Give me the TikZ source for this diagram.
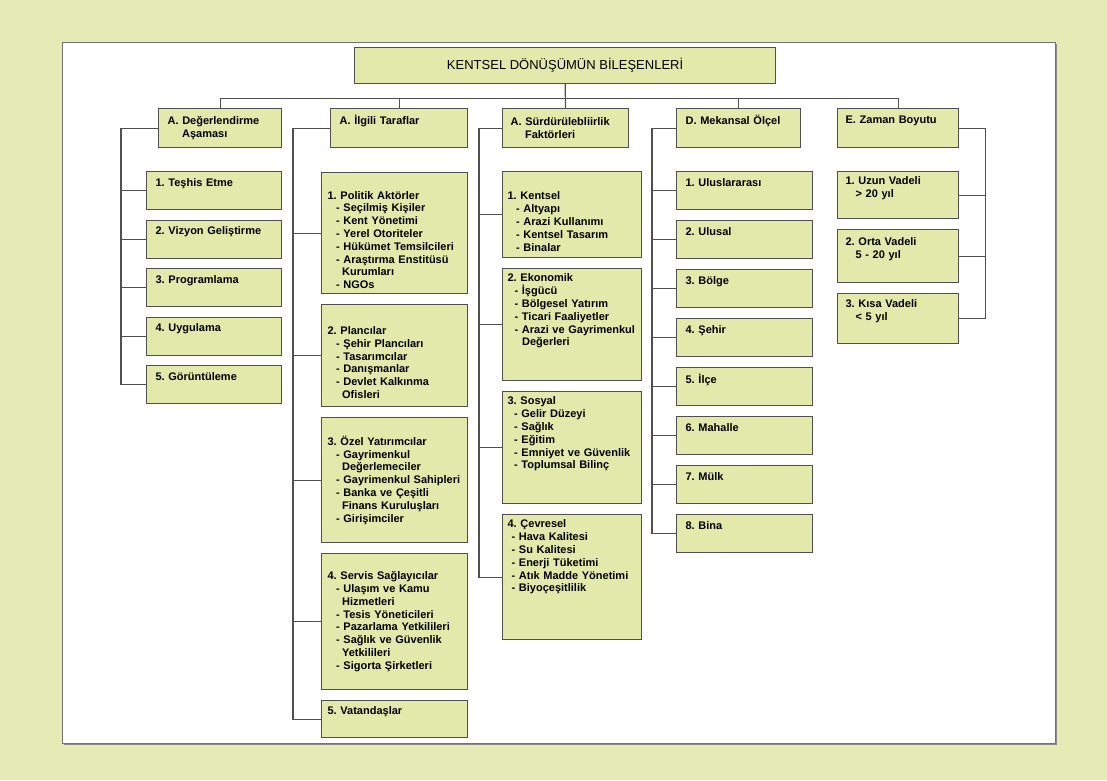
\documentclass[tikz,border=0pt]{standalone}
\usepackage{fontspec}
\setmainfont{Liberation Sans}
\usepackage{tikz}
\usepackage{xcolor}
\usetikzlibrary{positioning}

\definecolor{pagegreen}{RGB}{228,235,181}
\definecolor{boxgreen}{RGB}{226,233,170}
\definecolor{edgegray}{RGB}{80,80,80}

\newcommand{\dashline}[1][8.5pt]{\hspace*{#1}-\ \ignorespaces}
\newcommand{\contline}{\hspace*{14.5pt}\ignorespaces}
\frenchspacing
\hyphenpenalty=10000
\exhyphenpenalty=10000

\begin{document}
\begin{tikzpicture}[x=1pt, y=-1pt, node distance=9.8pt,
  box/.style={draw=edgegray, fill=boxgreen, line width=1.2pt, anchor=north west,
    align=left, inner ysep=1pt, font=\bfseries\fontsize{11}{12.8}\selectfont},
  head/.style={box, align=center, minimum width=421pt, minimum height=36pt,
    font=\fontsize{13}{15}\selectfont},
  cat/.style={box, minimum height=39pt},
  leaf/.style={box, minimum height=38pt},
  colA/.style={text width=117pt, inner xsep=9pt},
  colB/.style={text width=134pt, inner xsep=6pt},
  colC/.style={text width=129pt, inner xsep=5pt},
  colD/.style={text width=118pt, inner xsep=9pt},
  colE/.style={text width=105pt, inner xsep=8pt},
  wire/.style={draw=edgegray, line width=1.2pt}]

  % page and white frame
  \useasboundingbox[fill=pagegreen] (0,0) rectangle (1107,780);
  \fill[black!45] (64,44) rectangle (1057,745);
  \draw[edgegray!80, fill=white, line width=1pt] (62,42) rectangle (1055,743);

  % top box and the five branches
  \node[head] (title) at (354,47) {KENTSEL DÖNÜŞÜMÜN BİLEŞENLERİ};
  \node[cat, text width=105pt, inner xsep=9pt] (assess) at (158,108) {A. Değerlendirme\\\contline Aşaması};
  \node[cat, text width=119pt, inner xsep=9pt] (actors) at (330,108) {A. İlgili Taraflar\\\strut};
  \node[cat, text width=110pt, inner xsep=8pt] (factors) at (502,108) {A. Sürdürülebliirlik\\\contline Faktörleri};
  \node[cat, text width=106pt, inner xsep=9pt] (scale) at (676,108) {D. Mekansal Ölçel\\\strut};
  \node[cat, text width=105pt, inner xsep=8pt] (time) at (837,108) {E. Zaman Boyutu\\\strut};

  % A. Değerlendirme Aşaması
  \node[leaf, colA] (assess1) at (146,171) {1. Teşhis Etme\\\strut};
  \node[leaf, colA, below=9.3pt of assess1] (assess2) {2. Vizyon Geliştirme\\\strut};
  \node[leaf, colA, below=9.3pt of assess2] (assess3) {3. Programlama\\\strut};
  \node[leaf, colA, below=9.3pt of assess3] (assess4) {4. Uygulama\\\strut};
  \node[leaf, colA, below=9.3pt of assess4] (assess5) {5. Görüntüleme\\\strut};

  % A. İlgili Taraflar
  \node[leaf, colB, minimum height=121pt] (actors1) at (321,172) {\strut\\1. Politik Aktörler\\\dashline Seçilmiş Kişiler\\\dashline Kent Yönetimi\\\dashline Yerel Otoriteler\\\dashline Hükümet Temsilcileri\\\dashline Araştırma Enstitüsü\\\contline Kurumları\\\dashline NGOs};
  \node[leaf, colB, minimum height=102pt, below=of actors1] (actors2) {\strut\\2. Plancılar\\\dashline Şehir Plancıları\\\dashline Tasarımcılar\\\dashline Danışmanlar\\\dashline Devlet Kalkınma\\\contline Ofisleri};
  \node[leaf, colB, minimum height=125pt, below=of actors2] (actors3) {3. Özel Yatırımcılar\\\dashline Gayrimenkul\\\contline Değerlemeciler\\\dashline Gayrimenkul Sahipleri\\\dashline Banka ve Çeşitli\\\contline Finans Kuruluşları\\\dashline Girişimciler};
  \node[leaf, colB, minimum height=136pt, below=of actors3] (actors4) {4. Servis Sağlayıcılar\\\dashline Ulaşım ve Kamu\\\contline Hizmetleri\\\dashline Tesis Yöneticileri\\\dashline Pazarlama Yetkilileri\\\dashline Sağlık ve Güvenlik\\\contline Yetkilileri\\\dashline Sigorta Şirketleri};
  \node[leaf, colB, minimum height=37pt, below=of actors4] (actors5) {5. Vatandaşlar\\\strut};

  % A. Sürdürülebilirlik Faktörleri
  \node[leaf, colC, minimum height=86pt] (factors1) at (502,171) {\strut\\1. Kentsel\\\dashline Altyapı\\\dashline Arazi Kullanımı\\\dashline Kentsel Tasarım\\\dashline Binalar};
  \node[leaf, colC, minimum height=112pt, below=of factors1] (factors2) {2. Ekonomik\\\dashline[7pt] İşgücü\\\dashline[7pt] Bölgesel Yatırım\\\dashline[7pt] Ticari Faaliyetler\\\dashline[7pt] Arazi ve Gayrimenkul\\\contline Değerleri\\\strut\\\strut};
  \node[leaf, colC, minimum height=112pt, below=of factors2] (factors3) {3. Sosyal\\\dashline[6.5pt] Gelir Düzeyi\\\dashline[6.5pt] Sağlık\\\dashline[6.5pt] Eğitim\\\dashline[6.5pt] Emniyet ve Güvenlik\\\dashline[6.5pt] Toplumsal Bilinç\\\strut\\\strut};
  \node[leaf, colC, minimum height=125pt, below=of factors3] (factors4) {4. Çevresel\\\dashline[4pt] Hava Kalitesi\\\dashline[4pt] Su Kalitesi\\\dashline[4pt] Enerji Tüketimi\\\dashline[4pt] Atık Madde Yönetimi\\\dashline[4pt] Biyoçeşitlilik\\\strut\\\strut\\\strut};

  % D. Mekansal Ölçel
  \node[leaf, colD] (scale1) at (676,171) {1. Uluslararası\\\strut};
  \node[leaf, colD, below=of scale1] (scale2) {2. Ulusal\\\strut};
  \node[leaf, colD, below=of scale2] (scale3) {3. Bölge\\\strut};
  \node[leaf, colD, below=of scale3] (scale4) {4. Şehir\\\strut};
  \node[leaf, colD, below=of scale4] (scale5) {5. İlçe\\\strut};
  \node[leaf, colD, below=of scale5] (scale6) {6. Mahalle\\\strut};
  \node[leaf, colD, below=of scale6] (scale7) {7. Mülk\\\strut};
  \node[leaf, colD, below=of scale7] (scale8) {8. Bina\\\strut};

  % E. Zaman Boyutu
  \node[leaf, colE, minimum height=47pt] (time1) at (837,171) {1. Uzun Vadeli\\\hspace*{10pt}> 20 yıl\\\strut};
  \node[leaf, colE, minimum height=53pt, below=of time1] (time2) {2. Orta Vadeli\\\hspace*{10pt}5 - 20 yıl\\\strut};
  \node[leaf, colE, minimum height=50pt, below=of time2] (time3) {3. Kısa Vadeli\\\hspace*{10pt}< 5 yıl\\\strut};

  % title to branches
  \draw[wire] (title.south) -- ++(0,14) -| (assess.north);
  \draw[wire] (title.south) -- ++(0,14) -| (actors.north);
  \draw[wire] (title.south) -- (factors.north);
  \draw[wire] (title.south) -- ++(0,14) -| (scale.north);
  \draw[wire] (title.south) -- ++(0,14) -| (time.north);

  % left-hand buses
  \draw[wire] (assess.west) -| ([xshift=-25pt]assess5.west) -- (assess5.west);
  \draw[wire] (assess1.west) -- ++(-25,0);
  \draw[wire] (assess2.west) -- ++(-25,0);
  \draw[wire] (assess3.west) -- ++(-25,0);
  \draw[wire] (assess4.west) -- ++(-25,0);

  \draw[wire] (actors.west) -| ([xshift=-28pt]actors5.west) -- (actors5.west);
  \draw[wire] (actors1.west) -- ++(-28,0);
  \draw[wire] (actors2.west) -- ++(-28,0);
  \draw[wire] (actors3.west) -- ++(-28,0);
  \draw[wire] (actors4.west) -- ++(-28,0);

  \draw[wire] (factors.west) -| ([xshift=-23pt]factors4.west) -- (factors4.west);
  \draw[wire] (factors1.west) -- ++(-23,0);
  \draw[wire] (factors2.west) -- ++(-23,0);
  \draw[wire] (factors3.west) -- ++(-23,0);

  \draw[wire] (scale.west) -| ([xshift=-24pt]scale8.west) -- (scale8.west);
  \draw[wire] (scale1.west) -- ++(-24,0);
  \draw[wire] (scale2.west) -- ++(-24,0);
  \draw[wire] (scale3.west) -- ++(-24,0);
  \draw[wire] (scale4.west) -- ++(-24,0);
  \draw[wire] (scale5.west) -- ++(-24,0);
  \draw[wire] (scale6.west) -- ++(-24,0);
  \draw[wire] (scale7.west) -- ++(-24,0);

  % right-hand bus
  \draw[wire] (time.east) -| ([xshift=26pt]time3.east) -- (time3.east);
  \draw[wire] (time1.east) -- ++(26,0);
  \draw[wire] (time2.east) -- ++(26,0);
\end{tikzpicture}
\end{document}
